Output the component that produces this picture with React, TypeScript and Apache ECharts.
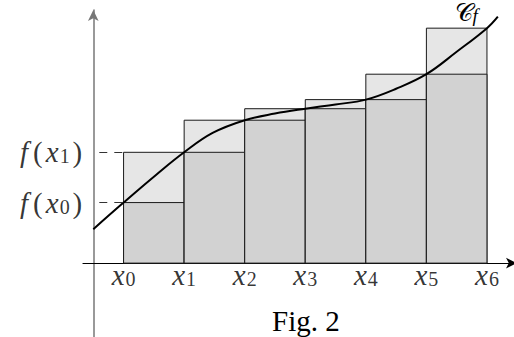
import React, { useEffect, useRef } from 'react';
import * as echarts from 'echarts';

// Subdivision points x_0 .. x_6 and the values f(x_i)
const xs = [1, 2, 3, 4, 5, 6, 7];
const xSubs = ['0', '1', '2', '3', '4', '5', '6'];
const fx = [1.0, 1.83, 2.36, 2.55, 2.7, 3.12, 3.88];
// indices of f(x_i) that are labelled on the y axis
const labelledY = [0, 1];
// points read along the curve C_f
const curveX = [0.5, 1, 1.54, 2, 2.47, 3, 3.5, 4, 4.5, 5, 5.5, 6, 6.5, 7, 7.18];
const curveY = [0.56, 1.0, 1.46, 1.83, 2.15, 2.36, 2.47, 2.55, 2.62, 2.7, 2.88, 3.12, 3.49, 3.88, 4.07];
const caption = 'Fig. 2';
const curveName = '𝒞';
const curveSub = 'f';

const X_MIN = 0.33;
const X_MAX = 7.43;
const Y_MIN = -1.22;
const Y_MAX = 4.18;
const Y_AXIS_AT = 0.5;

export default function App() {
  const ref = useRef<HTMLDivElement>(null);
  useEffect(() => {
    const chart = echarts.init(ref.current!, null, { renderer: 'svg' });
    const grid = { left: 83, top: 10, width: 430, height: 327, containLabel: false, outerBoundsMode: 'none' };
    const pxPerX = grid.width / (X_MAX - X_MIN);
    const serif = 'Liberation Serif';
    const rich: any = {
      f: { fontFamily: serif, fontStyle: 'italic', fontWeight: 'normal', fontSize: 29, lineHeight: 28, color: '#000', padding: [0, 4, 0, 0] },
      x: { fontFamily: serif, fontStyle: 'italic', fontWeight: 'normal', fontSize: 29, lineHeight: 28, color: '#000', padding: [0, 1, 0, 2] },
      r: { fontFamily: serif, fontWeight: 'normal', fontSize: 29, lineHeight: 28, color: '#000', padding: [0, 1, 0, 1] },
      s: { fontFamily: serif, fontWeight: 'normal', fontSize: 20, lineHeight: 12, color: '#000', verticalAlign: 'bottom', padding: [0, 2, 0, 0] },
      c: { fontFamily: serif, fontWeight: 'normal', fontSize: 25, lineHeight: 24, color: '#000' },
      cs: { fontFamily: serif, fontStyle: 'italic', fontWeight: 'normal', fontSize: 19, lineHeight: 10, color: '#000', verticalAlign: 'bottom' },
    };
    const rectData = xs.slice(0, -1).map((x, i) => [x, xs[i + 1], fx[i], fx[i + 1]]);
    const curveData = curveX.map((x, i) => [x, curveY[i]]);
    const xLabelData = xs.map((x) => [x, 0]);
    const yLabelData = labelledY.map((i) => [Y_AXIS_AT, fx[i]]);

    chart.setOption({
      animation: false,
      title: {
        text: caption,
        left: 272,
        top: 306,
        padding: 0,
        textStyle: { fontFamily: serif, fontSize: 29, fontWeight: 'normal', color: '#000' },
      },
      grid,
      xAxis: {
        type: 'value',
        min: X_MIN,
        max: X_MAX,
        splitLine: { show: false },
        axisTick: { show: false },
        axisLabel: { show: false },
        axisLine: {
          show: true,
          onZero: true,
          symbol: ['none', 'arrow'],
          symbolSize: [8, 11],
          symbolOffset: [0, 4],
          lineStyle: { color: '#000', width: 1.2 },
        },
      },
      yAxis: {
        type: 'value',
        min: Y_MIN,
        max: Y_MAX,
        offset: -(Y_AXIS_AT - X_MIN) * pxPerX,
        splitLine: { show: false },
        axisTick: { show: false },
        axisLabel: { show: false },
        axisLine: {
          show: true,
          onZero: false,
          symbol: ['none', 'arrow'],
          symbolSize: [8, 11],
          symbolOffset: [0, 0],
          lineStyle: { color: '#777', width: 1.5 },
        },
      },
      series: [
        {
          type: 'custom',
          z: 2,
          data: rectData,
          encode: { x: [0, 1], y: [2, 3] },
          renderItem: (params: any, api: any) => {
            const a = api.value(0);
            const b = api.value(1);
            const lo = api.value(2);
            const hi = api.value(3);
            const p0 = api.coord([a, 0]);
            const pLo = api.coord([b, lo]);
            const pHi = api.coord([b, hi]);
            const w = pLo[0] - p0[0];
            return {
              type: 'group',
              children: [
                {
                  type: 'rect',
                  shape: { x: p0[0], y: pHi[1], width: w, height: p0[1] - pHi[1] },
                  style: { fill: '#e6e6e6', stroke: '#1a1a1a', lineWidth: 1 },
                },
                {
                  type: 'rect',
                  shape: { x: p0[0], y: pLo[1], width: w, height: p0[1] - pLo[1] },
                  style: { fill: '#d2d2d2', stroke: '#1a1a1a', lineWidth: 1 },
                },
              ],
            };
          },
        },
        {
          type: 'line',
          z: 3,
          data: curveData,
          smooth: 0.4,
          showSymbol: false,
          symbol: 'none',
          lineStyle: { color: '#000', width: 2 },
          endLabel: {
            show: true,
            formatter: `{c|${curveName}}{cs|${curveSub}}`,
            align: 'right',
            verticalAlign: 'bottom',
            offset: [-28, 8],
            rich,
          },
          markLine: {
            silent: true,
            symbol: ['none', 'none'],
            label: { show: false },
            lineStyle: { color: '#333', width: 1, type: [8, 7], dashOffset: 9 },
            data: labelledY.map((i) => [
              { coord: [Y_AXIS_AT, fx[i]] },
              { coord: [xs[0], fx[i]] },
            ]),
          },
        },
        {
          type: 'scatter',
          z: 4,
          data: xLabelData,
          symbolSize: 0,
          silent: true,
          label: {
            show: true,
            position: 'bottom',
            distance: -2,
            formatter: (p: any) => `{x|x}{s|${xSubs[p.dataIndex]}}`,
            rich,
          },
        },
        {
          type: 'scatter',
          z: 4,
          data: yLabelData,
          symbolSize: 0,
          silent: true,
          label: {
            show: true,
            position: 'left',
            distance: 10,
            formatter: (p: any) => `{f|f}{r|(}{x|x}{s|${xSubs[labelledY[p.dataIndex]]}}{r|)}`,
            rich,
          },
        },
      ],
    });
    return () => chart.dispose();
  }, []);
  return <div ref={ref} style={{ position: 'absolute', left: 0, top: 0, width: 514, height: 337 }} />;
}
